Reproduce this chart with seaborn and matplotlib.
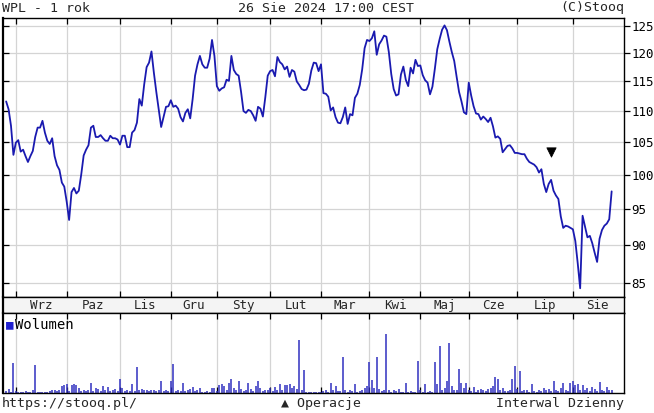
import numpy as np
import pandas as pd
import matplotlib
matplotlib.use("Agg")
import matplotlib.pyplot as plt
import seaborn as sns

# Kurs zamkniecia WPL (dni sesyjne 28.08.2023 - 26.08.2024)
kurs = [
    111.6, 110.3, 107.6, 103.0, 104.9, 105.3, 103.5, 103.8, 102.8, 101.9,
    102.8, 103.6, 105.8, 107.3, 107.3, 108.4, 106.5, 105.2, 104.7, 105.6,
    102.8, 101.4, 100.7, 98.8, 98.2, 96.0, 93.4, 97.4, 98.0, 97.2,
    97.6, 100.0, 102.9, 103.8, 104.5, 107.3, 107.6, 105.8, 105.8, 106.1,
    105.6, 105.2, 105.2, 106.0, 105.6, 105.6, 105.4, 104.6, 106.0, 106.0,
    104.2, 104.2, 106.5, 106.9, 108.1, 112.0, 110.9, 114.5, 117.5, 118.3,
    120.3, 116.5, 113.2, 110.3, 107.4, 109.0, 110.7, 110.8, 111.8, 110.7,
    110.9, 110.4, 109.0, 108.3, 109.7, 110.3, 108.8, 112.0, 116.0, 118.0,
    119.5, 118.0, 117.4, 117.4, 119.0, 122.4, 119.5, 114.2, 113.4, 113.8,
    114.0, 115.3, 115.1, 119.5, 117.0, 116.3, 116.0, 113.2, 110.0, 109.7,
    110.2, 110.0, 109.3, 108.4, 110.7, 110.4, 109.1, 112.3, 116.0, 116.8,
    117.0, 115.9, 119.3, 118.4, 118.0, 117.1, 117.6, 115.8, 117.0, 116.7,
    115.0, 114.4, 113.7, 113.5, 113.6, 114.6, 116.9, 118.3, 118.2, 116.8,
    118.0, 113.0, 112.9, 112.4, 110.1, 110.6, 109.0, 108.1, 108.0, 109.0,
    110.6, 107.9, 109.5, 109.3, 112.2, 112.9, 114.4, 117.1, 120.9, 122.4,
    122.2, 122.7, 124.0, 119.7, 121.6, 122.3, 123.2, 123.0, 120.2, 116.3,
    113.7, 112.6, 112.8, 116.2, 117.6, 115.3, 114.2, 117.4, 116.4, 118.8,
    117.7, 117.8, 116.1, 115.2, 114.8, 112.8, 114.1, 117.2, 120.7, 122.6,
    124.3, 125.1, 124.2, 122.1, 120.2, 118.6, 115.8, 113.2, 111.6, 109.8,
    109.5, 114.8, 112.6, 110.8, 109.6, 109.5, 108.6, 109.1, 108.7, 108.2,
    108.9, 107.5, 105.7, 105.9, 105.5, 103.4, 103.9, 104.4, 104.5, 104.0,
    103.3, 103.3, 103.2, 103.1, 103.1, 102.4, 101.9, 101.7, 101.5, 101.1,
    100.3, 100.8, 98.6, 97.4, 98.6, 99.2, 97.6, 96.9, 96.4, 93.9,
    92.3, 92.6, 92.5, 92.3, 92.1, 90.5, 87.5, 84.3, 94.0, 92.5,
    91.0, 91.2, 90.2, 88.9, 87.7, 90.8, 92.0, 92.6, 92.9, 93.5,
    97.5,
]

# Wolumen (jednostki umowne)
wolumen = [
    6, 12, 4, 86, 5, 4, 3, 4, 5, 3,
    4, 10, 80, 4, 3, 4, 3, 4, 5, 8,
    8, 6, 9, 20, 22, 25, 6, 22, 25, 22,
    15, 6, 10, 5, 8, 30, 6, 15, 12, 5,
    20, 10, 18, 6, 8, 12, 5, 40, 15, 6,
    10, 5, 25, 6, 76, 8, 12, 9, 8, 7,
    9, 8, 7, 10, 35, 6, 10, 5, 35, 83,
    6, 10, 5, 30, 6, 8, 12, 18, 5, 8,
    15, 4, 3, 5, 4, 15, 15, 6, 22, 25,
    20, 8, 28, 40, 15, 10, 35, 12, 6, 10,
    30, 12, 5, 20, 35, 15, 6, 10, 10, 15,
    6, 18, 8, 25, 10, 22, 22, 25, 15, 20,
    12, 153, 10, 68, 4, 3, 2, 3, 2, 3,
    3, 5, 8, 4, 28, 10, 20, 5, 6, 103,
    10, 4, 8, 5, 25, 4, 5, 10, 15, 20,
    90, 38, 15, 103, 12, 5, 10, 170, 8, 4,
    10, 5, 12, 4, 3, 30, 4, 5, 4, 3,
    93, 8, 4, 25, 4, 5, 3, 90, 25, 136,
    10, 15, 35, 146, 20, 10, 8, 70, 28, 15,
    30, 10, 5, 18, 4, 8, 12, 10, 6, 12,
    15, 20, 45, 40, 10, 15, 5, 6, 8, 40,
    78, 12, 65, 5, 10, 8, 4, 25, 5, 4,
    8, 5, 15, 10, 12, 6, 35, 10, 5, 15,
    30, 10, 6, 28, 35, 22, 25, 8, 22, 10,
    15, 6, 18, 12, 5, 32, 8, 6, 18, 10,
    8,
]

miesiace = ["Wrz", "Paz", "Lis", "Gru", "Sty", "Lut", "Mar", "Kwi", "Maj", "Cze", "Lip", "Sie"]
poczatki_miesiecy = [4, 25, 47, 68, 87, 109, 130, 150, 171, 191, 211, 234]
koniec_osi = 254.5
y_ticks = [85, 90, 95, 100, 105, 110, 115, 120, 125]

# operacja (dywidenda)
operacja_dzien = [225]
operacja_poziom = [103.5]

df = pd.DataFrame({"dzien": np.arange(len(kurs)), "kurs": kurs, "wolumen": wolumen})

sns.set_theme(style="white")
plt.rcParams["font.family"] = ["DejaVu Sans Mono", "DejaVu Sans"]

W, H = 654, 413
fig = plt.figure(figsize=(W / 100, H / 100), dpi=100)
fig.patch.set_facecolor("white")

xlim = (-1.3, 255.1)
grid_kolor = "#d4d4d4"
niebieski = "#1a1ab0"

# ---- wykres kursu ----
ax = fig.add_axes([3 / W, 1 - 297 / H, 621 / W, 279 / H])
sns.lineplot(data=df, x="dzien", y="kurs", ax=ax, color=niebieski, lw=1.3)
sns.scatterplot(x=operacja_dzien, y=operacja_poziom, ax=ax, marker="v", color="black", s=45, edgecolor="black")
ax.set_yscale("log")
ax.set_ylim(83.2, 126.5)
ax.set_xlim(*xlim)
ax.set_yticks(y_ticks)
ax.yaxis.set_minor_locator(matplotlib.ticker.NullLocator())
ax.set_yticklabels([])
ax.set_xticks(poczatki_miesiecy)
ax.set_xticklabels([])
ax.grid(True, color=grid_kolor, lw=0.9)
ax.tick_params(axis="both", direction="in", length=4, width=0.9, color="black",
               top=True, bottom=True, left=True, right=False)
ax.set_xlabel("")
ax.set_ylabel("")
for s in ax.spines.values():
    s.set_color("black")
    s.set_linewidth(1.0)
ax.spines["left"].set_linewidth(1.6)

ax2 = ax.twinx()
ax2.set_yscale("log")
ax2.set_ylim(83.2, 126.5)
ax2.set_yticks(y_ticks)
ax2.yaxis.set_minor_locator(matplotlib.ticker.NullLocator())
ax2.set_yticklabels([str(t) for t in y_ticks], fontsize=9)
ax2.tick_params(axis="y", direction="out", length=4, width=0.9, pad=1.5, colors="black")
for s in ax2.spines.values():
    s.set_visible(False)

# ---- pasek z miesiacami ----
ax_m = fig.add_axes([3 / W, 1 - 313 / H, 621 / W, 16 / H])
ax_m.set_xlim(*xlim)
ax_m.set_ylim(0, 1)
ax_m.set_xticks([])
ax_m.set_yticks([])
ax_m.set_facecolor("#f4f4f4")
granice = poczatki_miesiecy + [koniec_osi]
for i, nazwa in enumerate(miesiace):
    srodek = (granice[i] + granice[i + 1]) / 2
    ax_m.text(srodek, 0.45, nazwa, ha="center", va="center", fontsize=9)
for s in ax_m.spines.values():
    s.set_color("black")
    s.set_linewidth(1.0)
ax_m.spines["left"].set_linewidth(1.6)

# ---- wolumen ----
ax_v = fig.add_axes([3 / W, 1 - 393 / H, 621 / W, 80 / H])
ax_v.vlines(df["dzien"], 0, df["wolumen"], color="#3030c0", lw=1.1)
ax_v.set_xlim(*xlim)
ax_v.set_ylim(0, 232)
ax_v.set_xticks(poczatki_miesiecy)
ax_v.set_xticklabels([])
ax_v.set_yticks([])
ax_v.grid(True, axis="x", color=grid_kolor, lw=0.9)
ax_v.tick_params(axis="x", direction="in", length=4, width=0.9, color="black", top=True, bottom=True)
for s in ax_v.spines.values():
    s.set_color("black")
    s.set_linewidth(1.0)
ax_v.spines["left"].set_linewidth(1.6)
ax_v.text(0.005, 0.85, "\u25a0", transform=ax_v.transAxes, color="#2020d0", fontsize=9, va="center", ha="left")
ax_v.text(0.019, 0.85, "Wolumen", transform=ax_v.transAxes, color="black", fontsize=10, va="center", ha="left")

# ---- napisy ----
fig.text(2 / W, 1 - 8 / H, "WPL - 1 rok", fontsize=9.5, ha="left", va="center")
fig.text(326 / W, 1 - 8 / H, "26 Sie 2024 17:00 CEST", fontsize=9.5, ha="center", va="center")
fig.text(624 / W, 1 - 8 / H, "(C)Stooq", fontsize=9.5, ha="right", va="center")
fig.text(2 / W, 1 - 404 / H, "https://stooq.pl/", fontsize=9.5, ha="left", va="center")
fig.text(321 / W, 1 - 404 / H, "\u25b2 Operacje", fontsize=9.5, ha="center", va="center")
fig.text(624 / W, 1 - 404 / H, "Interwal Dzienny", fontsize=9.5, ha="right", va="center")

fig.savefig("out.png", dpi=100)
